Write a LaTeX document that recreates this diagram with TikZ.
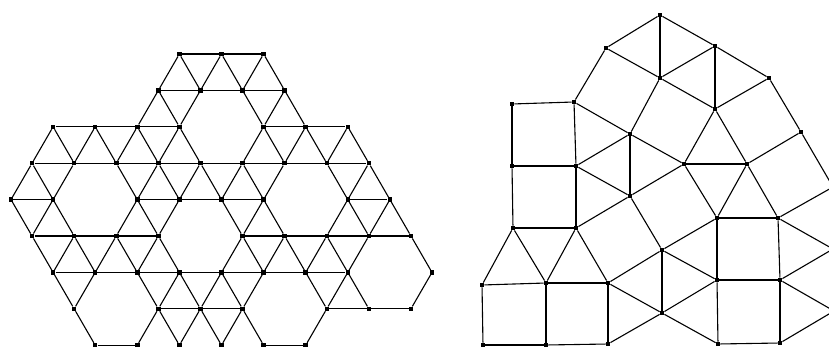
\documentclass[tikz,border=0pt]{standalone}
\begin{document}
\begin{tikzpicture}[
    x=1pt, y=-1pt,
    dot/.style={rectangle, fill=black, inner sep=0pt, minimum size=4.5pt},
    bond/.style={line width=1.1pt},
]
\clip (0,0) rectangle (829,347);

% left patch: triangular net with hexagonal holes
\foreach \r/\cols in {0/{8,10,12}, 1/{7,9,11,13}, 2/{2,4,6,8,12,14,16},
    3/{1,3,5,7,9,11,13,15,17}, 4/{0,2,6,8,10,12,16,18},
    5/{1,3,5,7,11,13,15,17,19}, 6/{2,4,6,8,10,12,14,16,20},
    7/{3,7,9,11,15,17,19}, 8/{4,6,8,10,12,14}}
  \foreach \c in \cols
    \node[dot] (l-\c-\r) at ({11+21.05*\c},{54+36.4*\r}) {};

% rows
\foreach \r/\a/\b in {0/8/12, 1/7/13, 2/2/8, 2/12/16, 3/1/17, 4/0/2, 4/6/12,
    4/16/18, 5/1/7, 5/11/19, 6/2/16, 7/7/11, 7/15/19, 8/4/6, 8/12/14}
  \draw[bond] (l-\a-\r) -- (l-\b-\r);

% slanted bonds, upper node to lower node
\foreach \c/\r/\d in {8/0/7, 8/0/9, 10/0/9, 10/0/11, 12/0/11, 12/0/13,
    7/1/6, 7/1/8, 9/1/8, 11/1/12, 13/1/12, 13/1/14,
    2/2/1, 2/2/3, 4/2/3, 4/2/5, 6/2/5, 6/2/7, 8/2/7, 8/2/9,
    12/2/11, 12/2/13, 14/2/13, 14/2/15, 16/2/15, 16/2/17,
    1/3/0, 1/3/2, 3/3/2, 5/3/6, 7/3/6, 7/3/8, 9/3/8, 9/3/10,
    11/3/10, 11/3/12, 13/3/12, 15/3/16, 17/3/16, 17/3/18,
    0/4/1, 2/4/1, 2/4/3, 6/4/5, 6/4/7, 8/4/7, 10/4/11, 12/4/11,
    12/4/13, 16/4/15, 16/4/17, 18/4/17, 18/4/19,
    1/5/2, 3/5/2, 3/5/4, 5/5/4, 5/5/6, 7/5/6, 7/5/8, 11/5/10,
    11/5/12, 13/5/12, 13/5/14, 15/5/14, 15/5/16, 17/5/16, 19/5/20,
    2/6/3, 4/6/3, 6/6/7, 8/6/7, 8/6/9, 10/6/9, 10/6/11, 12/6/11,
    14/6/15, 16/6/15, 16/6/17, 20/6/19,
    3/7/4, 7/7/6, 7/7/8, 9/7/8, 9/7/10, 11/7/10, 11/7/12, 15/7/14}{
  \pgfmathtruncatemacro\s{\r+1}
  \draw[bond] (l-\c-\r) -- (l-\d-\s);
}

% right patch: squares and triangles
\foreach \n/\x/\y in {1/512/104, 2/574/102, 3/606/48, 4/660/15, 5/715/46,
    6/660/78, 7/769/78, 8/715/109, 9/630/134, 10/801/132, 11/512/166,
    12/576/166, 13/684/164, 14/747/164, 15/630/196, 16/513/228, 17/576/228,
    18/717/218, 19/778/218, 20/662/250, 21/482/285, 22/546/283, 23/608/283,
    24/717/280, 25/780/280, 26/662/313, 27/483/345, 28/546/345, 29/608/344,
    30/718/344, 31/780/343}
  \node[dot] (q\n) at (\x,\y) {};
% vertices just past the right edge
\coordinate (q32) at (833,187);
\coordinate (q33) at (833,249);
\coordinate (q34) at (834,311);

\foreach \a/\b in {1/2, 1/11, 2/12, 11/12, 2/3, 3/4, 3/6, 4/5, 4/6, 5/6,
    5/7, 5/8, 6/8, 7/8, 7/10, 2/9, 6/9, 9/12, 9/15, 9/13, 8/13, 8/14,
    13/14, 10/14, 10/32, 12/15, 11/16, 12/17, 16/17, 15/17, 13/15, 15/20,
    13/18, 14/18, 14/19, 18/19, 18/20, 18/24, 19/25, 19/32, 19/33,
    20/26, 20/24, 20/23, 24/25, 25/33, 25/34, 24/26, 23/26, 29/26, 26/30,
    24/30, 25/31, 30/31, 31/34, 16/21, 16/22, 17/22, 17/23, 21/22, 22/23,
    21/27, 22/28, 23/29, 27/28, 28/29}
  \draw[bond] (q\a) -- (q\b);
\end{tikzpicture}
\end{document}
